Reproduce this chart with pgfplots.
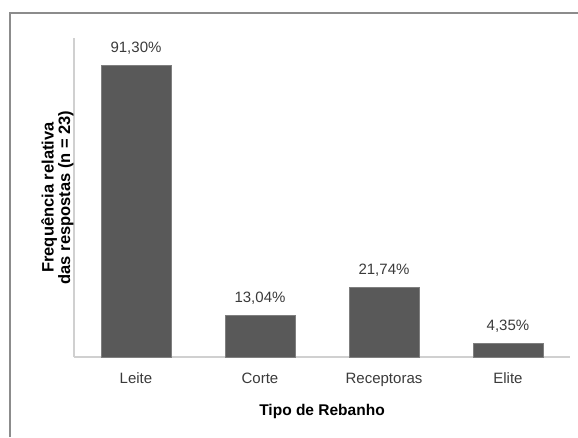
\documentclass[border=0pt]{standalone}
\usepackage{pgfplots}
\pgfplotsset{compat=1.18}
\usepackage{fontspec}
\setmainfont{Liberation Sans}
\definecolor{barfill}{HTML}{595959}
\definecolor{baredge}{HTML}{7F7F7F}
\definecolor{axisgray}{HTML}{D0D0D0}
\definecolor{framegray}{HTML}{8C8C8C}
\definecolor{txtgray}{HTML}{3A3A3A}
\begin{document}
\begin{tikzpicture}[x=1pt,y=1pt]
\path[use as bounding box] (0,0) rectangle (578,437);
\draw[framegray, line width=1.3pt] (10,0) -- (10,424) -- (578,424);
\begin{axis}[
  at={(74pt,80pt)}, anchor=south west,
  scale only axis, width=496pt, height=319pt,
  xmin=-0.5, xmax=3.5, ymin=0, ymax=100,
  enlargelimits=false,
  axis x line=bottom, axis y line=left,
  x axis line style={-, axisgray, line width=1.8pt},
  y axis line style={-, axisgray, line width=1.1pt},
  ytick=\empty,
  xtick={0,1,2,3},
  xticklabels={Leite,Corte,Receptoras,Elite},
  major tick length=0pt,
  xticklabel style={anchor=base, yshift=-26.5pt, text=txtgray, font=\fontsize{15}{18}\selectfont},
  xlabel={Tipo de Rebanho},
  xlabel style={at={(axis description cs:0.5,0)}, anchor=base, yshift=-58pt, font=\fontsize{15.5}{18}\selectfont\bfseries},
  ylabel={Frequência relativa\\das respostas (n = 23)},
  ylabel style={at={(axis description cs:-0.0333,0.5)}, anchor=center, align=center, font=\fontsize{16.5}{14}\selectfont\bfseries},
  ybar, bar width=70pt,
  nodes near coords={\pgfmathprintnumber[fixed,fixed zerofill,precision=2,use comma,assume math mode=true]{\pgfplotspointmeta}\%},
  every node near coord/.append style={anchor=base, yshift=13pt, text=txtgray, font=\fontsize{15}{18}\selectfont},
]
\addplot[fill=barfill, draw=baredge, line width=0.6pt] coordinates {(0,91.30) (1,13.04) (2,21.74) (3,4.35)};
\end{axis}
\end{tikzpicture}
\end{document}
